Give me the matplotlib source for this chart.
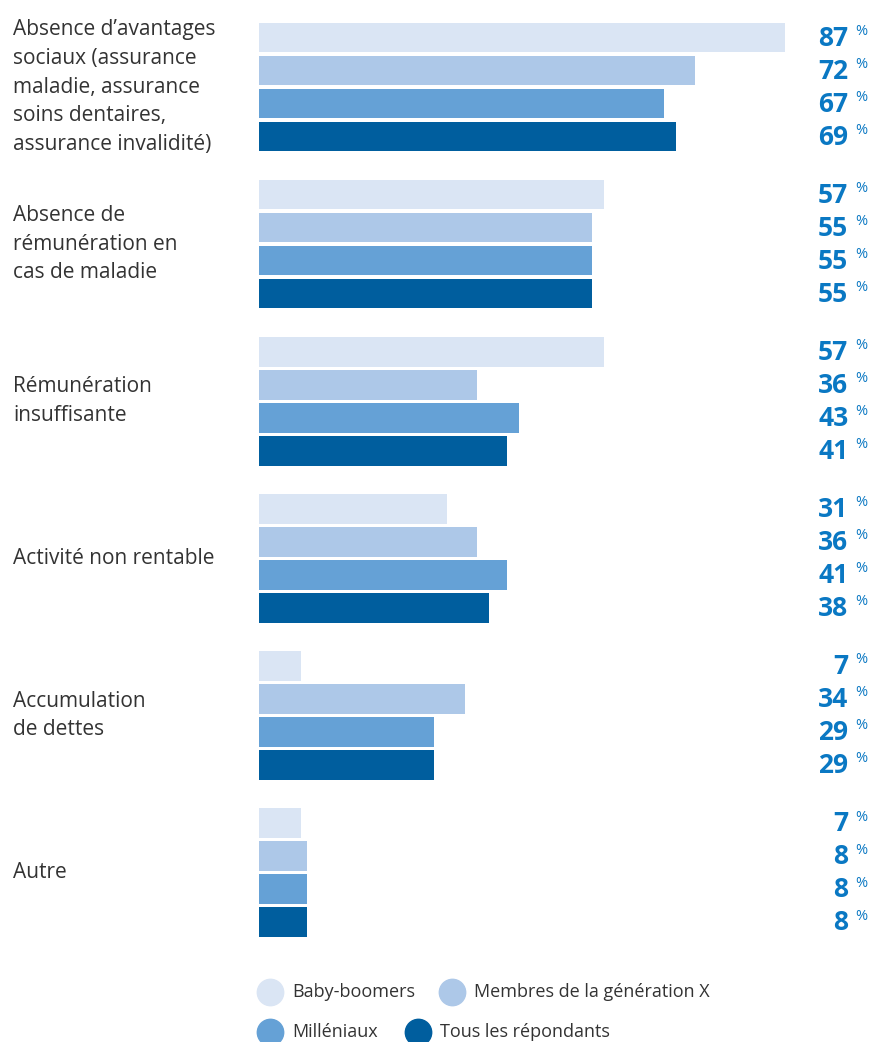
import numpy as np
import matplotlib.pyplot as plt

categories = [
    "Absence d\u2019avantages\nsociaux (assurance\nmaladie, assurance\nsoins dentaires,\nassurance invalidit\u00e9)",
    "Absence de\nr\u00e9mun\u00e9ration en\ncas de maladie",
    "R\u00e9mun\u00e9ration\ninsuffisante",
    "Activit\u00e9 non rentable",
    "Accumulation\nde dettes",
    "Autre",
]
series_names = ["Baby-boomers", "Membres de la g\u00e9n\u00e9ration X", "Mill\u00e9niaux", "Tous les r\u00e9pondants"]
baby_boomers = [87, 57, 57, 31, 7, 7]
generation_x = [72, 55, 36, 36, 34, 8]
milleniaux = [67, 55, 43, 41, 29, 8]
tous = [69, 55, 41, 38, 29, 8]
colors = ["#dae5f4", "#adc8e8", "#65a1d6", "#005e9e"]
value_color = "#0a78c3"
text_color = "#333333"

plt.rcParams['font.family'] = ['Open Sans', 'DejaVu Sans']

W, H = 873, 1042
fig = plt.figure(figsize=(W / 100, H / 100), dpi=100)
# axes in pixels: x 259..864, y 0..960 from top
ax = fig.add_axes([259 / W, (H - 960) / H, 605 / W, 960 / H])
ax.set_xlim(0, 100)
ax.set_ylim(27.95, -1.136)
ax.axis('off')

data = [baby_boomers, generation_x, milleniaux, tous]
group_step = 4.76
yax = ax.get_yaxis_transform()
for j, vals in enumerate(data):
    ys = np.arange(len(categories)) * group_step + j
    ax.barh(ys, vals, height=0.9, color=colors[j], edgecolor='none')
    for y, v in zip(ys, vals):
        ax.text(0.974, y + 0.02, str(v), transform=yax, ha='right', va='center',
                fontsize=19, fontweight='bold', color=value_color, clip_on=False)
        ax.text(0.985, y - 0.18, "%", transform=yax, ha='left', va='center',
                fontsize=10.5, color=value_color, clip_on=False)

for g, cat in enumerate(categories):
    yc = g * group_step + 1.5
    ax.text(-246 / 605, yc, cat, transform=yax, ha='left', va='center',
            fontsize=15, color=text_color, linespacing=1.48, clip_on=False)

# legend
legend_pos = [(270, 992), (452, 992), (270, 1032), (418, 1032)]
for (px, py), name, c in zip(legend_pos, series_names, colors):
    fig.lines.append(plt.Line2D([px / W], [1 - py / H], marker='o', markersize=19,
                                color=c, linestyle='none', transform=fig.transFigure))
    fig.text((px + 22) / W, 1 - py / H, name, ha='left', va='center',
             fontsize=13, color=text_color)

fig.savefig("out.png", dpi=100)
